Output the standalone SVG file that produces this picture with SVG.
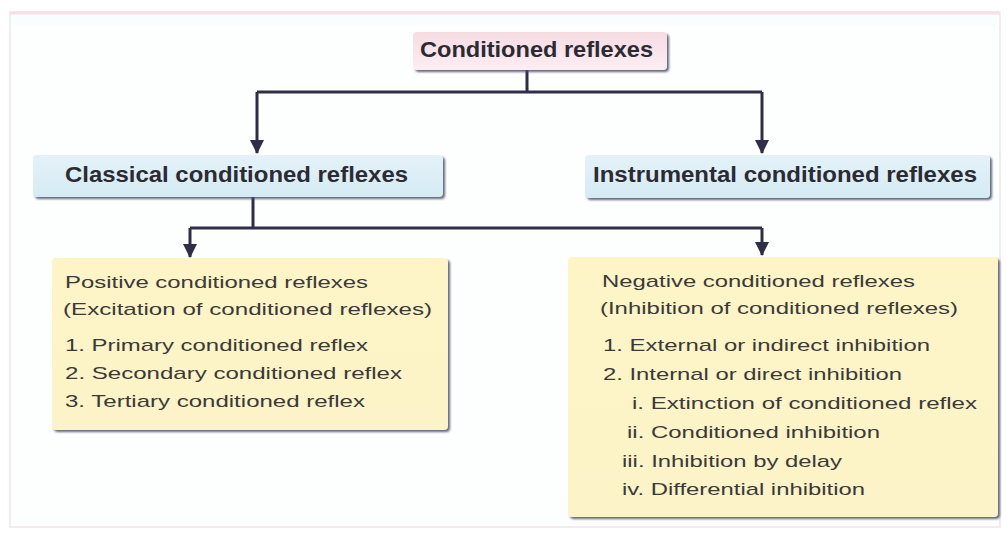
<svg xmlns="http://www.w3.org/2000/svg" width="1007" height="534" viewBox="0 0 1007 534">
<style>
.hdr{font-family:"Liberation Sans",Arial,sans-serif;font-weight:bold;font-size:22px;fill:#2b2b33}
.txt{font-family:"Liberation Sans",Arial,sans-serif;font-size:17px;fill:#3a3a3a}
.conn{fill:none;stroke:#2e2e48;stroke-width:3}
</style>
<defs>
<linearGradient id="gPink" x1="0" y1="0" x2="0" y2="1"><stop offset="0" stop-color="#f6dbe3"/><stop offset="1" stop-color="#fbeef2"/></linearGradient>
<linearGradient id="gBlue" x1="0" y1="0" x2="0" y2="1"><stop offset="0" stop-color="#e4f2f8"/><stop offset="1" stop-color="#d5ebf4"/></linearGradient>
<linearGradient id="gYel" x1="0" y1="0" x2="0" y2="1"><stop offset="0" stop-color="#fdf5c6"/><stop offset="1" stop-color="#fcf3c8"/></linearGradient>
<filter id="sh" x="-5%" y="-10%" width="110%" height="125%"><feDropShadow dx="2" dy="2" stdDeviation="1" flood-color="#4a4e66" flood-opacity="0.85"/></filter>
<marker id="arr" viewBox="0 0 14 14" refX="13" refY="7" markerWidth="14" markerHeight="14" markerUnits="userSpaceOnUse" orient="auto">
<path d="M0,0 L14,7 L0,14 Z" fill="#2e2e48"/>
</marker>
</defs>
<rect x="0" y="0" width="1007" height="534" fill="#ffffff"/>
<g id="panel">
<rect x="10" y="12" width="990" height="515" fill="#fdfefe" stroke="#efe6ea" stroke-width="1.5"/>
<line x1="10" y1="13" x2="1000" y2="13" stroke="#f6dfe6" stroke-width="3"/>
<rect x="13" y="16" width="984" height="10" fill="#f9fdfe"/>
</g>
<g id="connectors">
<polyline class="conn" points="527,70 527,92"/>
<line class="conn" x1="257" y1="92" x2="762" y2="92"/>
<line class="conn" x1="257" y1="92" x2="257" y2="153" marker-end="url(#arr)"/>
<line class="conn" x1="762" y1="92" x2="762" y2="153" marker-end="url(#arr)"/>
<polyline class="conn" points="253,197 253,228"/>
<line class="conn" x1="190" y1="228" x2="762" y2="228"/>
<line class="conn" x1="190" y1="228" x2="190" y2="257" marker-end="url(#arr)"/>
<line class="conn" x1="762" y1="228" x2="762" y2="255" marker-end="url(#arr)"/>
</g>
<g id="node-conditioned">
<rect x="413" y="32" width="254" height="38" rx="4" fill="url(#gPink)" filter="url(#sh)"/>
<text class="hdr" x="420" y="57" textLength="233" lengthAdjust="spacingAndGlyphs">Conditioned reflexes</text>
</g>
<g id="node-classical">
<rect x="33" y="155" width="410" height="42" rx="4" fill="url(#gBlue)" filter="url(#sh)"/>
<text class="hdr" x="65" y="182" textLength="343" lengthAdjust="spacingAndGlyphs">Classical conditioned reflexes</text>
</g>
<g id="node-instrumental">
<rect x="585" y="155" width="405" height="43" rx="4" fill="url(#gBlue)" filter="url(#sh)"/>
<text class="hdr" x="593" y="182" textLength="384" lengthAdjust="spacingAndGlyphs">Instrumental conditioned reflexes</text>
</g>
<g id="node-positive">
<rect x="52" y="258" width="396" height="172" rx="4" fill="url(#gYel)" filter="url(#sh)"/>
<text class="txt" x="65" y="288" textLength="303" lengthAdjust="spacingAndGlyphs">Positive conditioned reflexes</text>
<text class="txt" x="63" y="315" textLength="369" lengthAdjust="spacingAndGlyphs">(Excitation of conditioned reflexes)</text>
<text class="txt" x="65" y="351" textLength="303" lengthAdjust="spacingAndGlyphs">1. Primary conditioned reflex</text>
<text class="txt" x="65" y="379" textLength="337" lengthAdjust="spacingAndGlyphs">2. Secondary conditioned reflex</text>
<text class="txt" x="65" y="407" textLength="300" lengthAdjust="spacingAndGlyphs">3. Tertiary conditioned reflex</text>
</g>
<g id="node-negative">
<rect x="568" y="257" width="430" height="260" rx="4" fill="url(#gYel)" filter="url(#sh)"/>
<text class="txt" x="602" y="287" textLength="313" lengthAdjust="spacingAndGlyphs">Negative conditioned reflexes</text>
<text class="txt" x="600" y="314" textLength="358" lengthAdjust="spacingAndGlyphs">(Inhibition of conditioned reflexes)</text>
<text class="txt" x="603" y="351" textLength="327" lengthAdjust="spacingAndGlyphs">1. External or indirect inhibition</text>
<text class="txt" x="603" y="380" textLength="299" lengthAdjust="spacingAndGlyphs">2. Internal or direct inhibition</text>
<text class="txt" x="632" y="409" textLength="345" lengthAdjust="spacingAndGlyphs">i. Extinction of conditioned reflex</text>
<text class="txt" x="627" y="438" textLength="253" lengthAdjust="spacingAndGlyphs">ii. Conditioned inhibition</text>
<text class="txt" x="622" y="467" textLength="220" lengthAdjust="spacingAndGlyphs">iii. Inhibition by delay</text>
<text class="txt" x="622" y="495" textLength="243" lengthAdjust="spacingAndGlyphs">iv. Differential inhibition</text>
</g>
</svg>
